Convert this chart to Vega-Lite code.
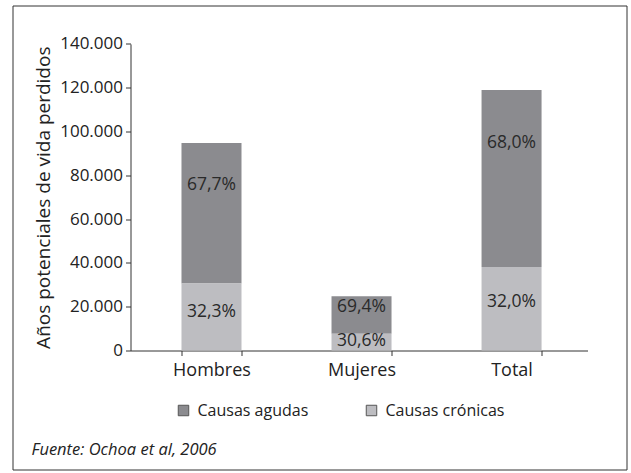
{
  "$schema": "https://vega.github.io/schema/vega-lite/v6.json",
  "width": 614,
  "height": 464,
  "autosize": {"type": "none"},
  "padding": {"left": 12.5, "top": 5.5, "right": 4, "bottom": 3},
  "background": "white",
  "data": {
    "values": [
      {"grupo": "Hombres", "causa": "Causas agudas", "valor": 64200, "etiqueta": "67,7%"},
      {"grupo": "Hombres", "causa": "Causas crónicas", "valor": 30600, "etiqueta": "32,3%"},
      {"grupo": "Mujeres", "causa": "Causas agudas", "valor": 17200, "etiqueta": "69,4%"},
      {"grupo": "Mujeres", "causa": "Causas crónicas", "valor": 7600, "etiqueta": "30,6%"},
      {"grupo": "Total", "causa": "Causas agudas", "valor": 80900, "etiqueta": "68,0%"},
      {"grupo": "Total", "causa": "Causas crónicas", "valor": 38100, "etiqueta": "32,0%"}
    ]
  },
  "transform": [
    {"stack": "valor", "groupby": ["grupo"], "sort": [{"field": "causa", "order": "descending"}], "as": ["v0", "v1"]},
    {"calculate": "datum.v0 + (datum.causa == 'Causas agudas' ? 0.7 : 0.58) * datum.valor", "as": "ly"}
  ],
  "encoding": {
    "x": {
      "field": "grupo",
      "type": "nominal",
      "sort": ["Hombres", "Mujeres", "Total"],
      "scale": {"range": [118, 575], "paddingInner": 0.6, "paddingOuter": 0.323, "align": 0.526},
      "axis": {
        "orient": "bottom",
        "offset": -119,
        "labelAngle": 0,
        "tickBand": "extent",
        "tickSize": 5,
        "labelPadding": 6,
        "labelFontSize": 18,
        "title": "Fuente: Ochoa et al, 2006",
        "titleX": 18.5,
        "titleY": 104,
        "titleAlign": "left",
        "titleAnchor": "start",
        "titleBaseline": "alphabetic",
        "titleFontStyle": "italic",
        "titleFontWeight": "normal",
        "titleFontSize": 16.5
      }
    }
  },
  "layer": [
    {
      "mark": {"type": "bar"},
      "encoding": {
        "y": {
          "field": "v0",
          "type": "quantitative",
          "scale": {"domain": [0, 140000], "range": [345, 38.4], "nice": false},
          "axis": {
            "orient": "left",
            "offset": -118,
            "values": [0, 20000, 40000, 60000, 80000, 100000, 120000, 140000],
            "format": ",d",
            "grid": false,
            "tickSize": 5,
            "labelPadding": 3,
            "labelFontSize": 17,
            "title": "Años potenciales de vida perdidos",
            "titleFontSize": 19,
            "titleFontWeight": "normal",
            "titlePadding": 6
          }
        },
        "y2": {"field": "v1"},
        "color": {
          "field": "causa",
          "type": "nominal",
          "scale": {"domain": ["Causas agudas", "Causas crónicas"], "range": ["#8b8b8f", "#bdbdc1"]},
          "legend": {
            "orient": "none",
            "legendX": 163,
            "legendY": 397,
            "direction": "horizontal",
            "title": null,
            "symbolType": "square",
            "symbolSize": 110,
            "symbolStrokeColor": "#555555",
            "symbolStrokeWidth": 1,
            "symbolOpacity": 1,
            "labelFontSize": 16,
            "labelOffset": 6,
            "columnPadding": 55,
            "padding": 0
          }
        }
      }
    },
    {
      "mark": {"type": "text", "baseline": "middle", "align": "center", "fontSize": 17.5, "color": "#2a2a2a", "font": "Open Sans"},
      "encoding": {
        "y": {"field": "ly", "type": "quantitative"},
        "text": {"field": "etiqueta"}
      }
    }
  ],
  "config": {
    "locale": {"number": {"decimal": ",", "thousands": ".", "grouping": [3], "currency": ["", " €"]}},
    "font": "Open Sans",
    "view": {"stroke": "#333333", "strokeWidth": 1},
    "axis": {
      "domainColor": "#333333",
      "tickColor": "#333333",
      "labelColor": "#222222",
      "titleColor": "#222222",
      "labelFont": "Open Sans",
      "titleFont": "Open Sans"
    },
    "legend": {"labelColor": "#222222", "labelFont": "Open Sans"}
  }
}
